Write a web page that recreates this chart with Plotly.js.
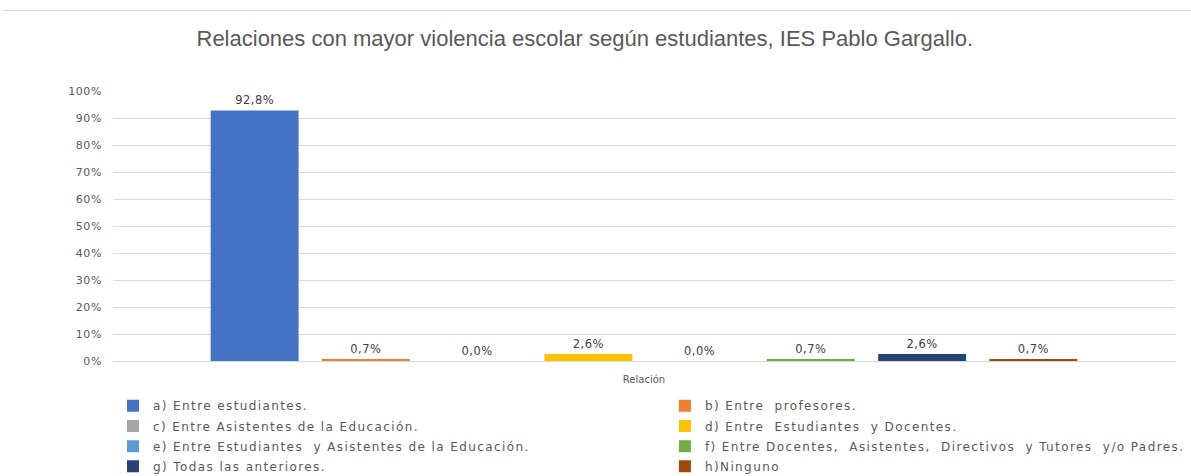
<!DOCTYPE html>
<html>
<head>
<meta charset="utf-8">
<script src="https://cdn.plot.ly/plotly-3.0.1.min.js"></script>
<style>
html,body{margin:0;padding:0;background:#fff;}
#topline{position:absolute;left:3px;top:10px;width:1188px;height:0;border-top:1px solid #d9d9d9;}
#chart{width:1191px;height:476px;}
.ytick text{letter-spacing:0.6px;}
text.bartext{letter-spacing:0.5px;}
</style>
</head>
<body>
<div id="chart"></div>
<div id="topline"></div>
<script>
const categories = [
  "a) Entre estudiantes.",
  "b) Entre  profesores.",
  "c) Entre Asistentes de la Educación.",
  "d) Entre  Estudiantes  y Docentes.",
  "e) Entre Estudiantes  y Asistentes de la Educación.",
  "f) Entre Docentes,  Asistentes,  Directivos  y Tutores  y/o Padres.",
  "g) Todas las anteriores.",
  "h)Ninguno"
];
const values = [92.8, 0.7, 0.0, 2.6, 0.0, 0.7, 2.6, 0.7];
const colors = ["#4472C4", "#ED7D31", "#A5A5A5", "#FFC000", "#5B9BD5", "#70AD47", "#264478", "#9E480E"];
const xLabel = ["Relación"];

const traces = categories.map((name, i) => ({
  type: "bar",
  name: '<span style="letter-spacing:1.4px">' + name + '</span>',
  legendgroup: "g" + i,
  x: xLabel,
  y: [values[i]],
  marker: {color: colors[i]},
  text: [values[i].toFixed(1).replace(".", ",") + "%"],
  textposition: "outside",
  cliponaxis: false,
  textfont: {family: "DejaVu Sans", size: 11.5, color: "#404040"},
  legend: (i % 2 === 0) ? "legend" : "legend2",
  hoverinfo: "name+y"
}));

const legendFont = {family: "DejaVu Sans", size: 12, color: "#595959"};

const layout = {
  width: 1191,
  height: 476,
  margin: {l: 113, r: 16, t: 91, b: 115, autoexpand: false},
  paper_bgcolor: "#ffffff",
  plot_bgcolor: "#ffffff",
  title: {
    text: "Relaciones con mayor violencia escolar según estudiantes, IES Pablo Gargallo.",
    font: {family: "Liberation Sans, Arial, sans-serif", size: 22, color: "#595959"},
    x: 0.491, xanchor: "center", y: 0.92, yanchor: "middle"
  },
  barmode: "group",
  bargap: 0.162,
  bargroupgap: 0.21,
  xaxis: {
    showticklabels: false,
    showgrid: false,
    zeroline: false,
    showline: false,
    title: {text: "Relación", font: {family: "DejaVu Sans", size: 10, color: "#595959"}, standoff: 14}
  },
  yaxis: {
    range: [0, 100],
    dtick: 10,
    ticksuffix: "%",
    showgrid: true,
    gridcolor: "#d9d9d9",
    gridwidth: 1,
    zeroline: true,
    zerolinecolor: "#d9d9d9",
    showline: false,
    tickfont: {family: "DejaVu Sans", size: 11, color: "#595959"},
    ticks: "",
    ticklabelstandoff: 10,
    automargin: false
  },
  showlegend: true,
  legend: {
    orientation: "v",
    x: 0.0, xanchor: "left",
    y: -0.112, yanchor: "top",
    tracegroupgap: 1.2,
    font: legendFont,
    bgcolor: "rgba(0,0,0,0)"
  },
  legend2: {
    orientation: "v",
    x: 0.5197, xanchor: "left",
    y: -0.112, yanchor: "top",
    tracegroupgap: 1.2,
    font: legendFont,
    bgcolor: "rgba(0,0,0,0)"
  }
};

Plotly.newPlot("chart", traces, layout, {displayModeBar: false, staticPlot: true});
</script>
</body>
</html>
